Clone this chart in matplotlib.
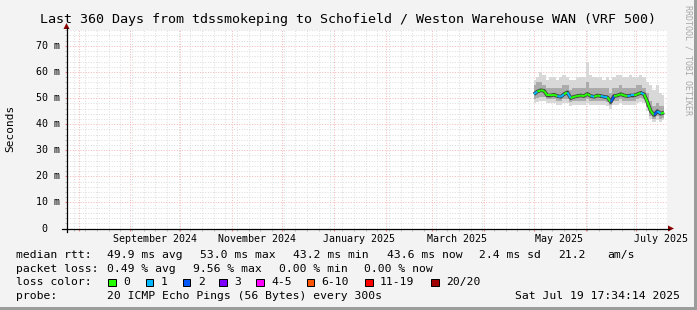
import matplotlib
matplotlib.use('Agg')
import matplotlib.pyplot as plt
import matplotlib.dates as mdates
from matplotlib.collections import LineCollection
from matplotlib.patches import Rectangle, Polygon
from matplotlib.lines import Line2D
from matplotlib.transforms import blended_transform_factory
import numpy as np
import pandas as pd

W, H = 697, 310
MONO = 'DejaVu Sans Mono'

title = 'Last 360 Days from tdssmokeping to Schofield / Weston Warehouse WAN (VRF 500)'
t_start = pd.Timestamp('2024-07-24 17:34:14')
t_end = pd.Timestamp('2025-07-19 17:34:14')

# one sample every two days, 2025-05-01 .. 2025-07-18 (values in ms)
sample_times = pd.date_range('2025-05-01', periods=40, freq='2D')
median_ms = [51.5, 52.5, 53.0, 52.8, 51.0, 51.0, 51.3, 50.8, 50.5, 51.5,
             52.2, 50.0, 50.5, 50.8, 51.0, 50.8, 51.6, 50.8, 50.5, 51.0,
             50.8, 50.5, 50.3, 48.5, 50.8, 51.0, 51.5, 51.0, 50.8, 51.0,
             51.0, 51.5, 52.0, 51.5, 48.5, 45.0, 43.5, 45.0, 44.0, 44.5]
loss_idx = [1, 0, 0, 0, 0, 0, 0, 1, 1, 0, 1, 0, 0, 0, 0, 0, 0, 1, 0, 0,
            1, 1, 0, 2, 0, 0, 0, 0, 1, 1, 0, 0, 1, 0, 0, 0, 2, 1, 0, 0]
smoke_min = [48.0, 48.5, 49.0, 49.0, 48.0, 48.0, 48.0, 47.5, 47.5, 48.0,
             48.0, 47.0, 47.5, 47.5, 47.5, 47.5, 48.0, 47.5, 47.5, 47.5,
             47.5, 47.5, 47.0, 46.0, 47.5, 47.5, 48.0, 47.5, 47.5, 47.5,
             47.5, 48.0, 48.5, 48.0, 45.0, 42.0, 41.0, 41.5, 41.0, 41.5]
smoke_low = [49.5, 50.0, 50.5, 50.5, 49.5, 49.5, 49.5, 49.0, 49.0, 49.5,
             49.5, 48.5, 49.0, 49.0, 49.0, 49.0, 49.5, 49.0, 49.0, 49.0,
             49.0, 49.0, 48.5, 47.5, 49.0, 49.0, 49.5, 49.0, 49.0, 49.0,
             49.0, 49.5, 50.0, 49.5, 46.5, 43.0, 42.0, 43.0, 42.0, 42.5]
smoke_high = [55, 56, 56, 55, 54, 54, 54, 54, 54, 55,
              55, 53, 54, 54, 54, 54, 56, 54, 54, 54,
              54, 54, 54, 52, 54, 54, 55, 54, 54, 54,
              54, 55, 55, 54, 52, 49, 47, 48, 47, 47]
smoke_max = [57, 58, 60, 59, 57, 58, 58, 57, 58, 59,
             58, 57, 57, 58, 58, 58, 64, 59, 58, 58,
             58, 57, 58, 57, 58, 59, 59, 58, 58, 59,
             58, 58, 59, 58, 56, 55, 53, 55, 52, 51]

y_ticks = [0, 10, 20, 30, 40, 50, 60, 70]
y_tick_labels = ['0', '10 m', '20 m', '30 m', '40 m', '50 m', '60 m', '70 m']
month_labels = ['September 2024', 'November 2024', 'January 2025',
                'March 2025', 'May 2025', 'July 2025']
month_label_dates = ['2024-09-16', '2024-11-16', '2025-01-16',
                     '2025-03-16', '2025-05-16', '2025-07-16']

loss_names = ['0', '1', '2', '3', '4-5', '6-10', '11-19', '20/20']
loss_colors = ['#26ff00', '#00b8ff', '#0059ff', '#7e00ff',
               '#ff00ff', '#ff5500', '#ff0000', '#a10000']

rtt_items = ['49.9 ms avg', '53.0 ms max', '43.2 ms min', '43.6 ms now',
             '2.4 ms sd', '21.2', 'am/s']
loss_items = ['0.49 % avg', '9.56 % max', '0.00 % min', '0.00 % now']
probe_text = '20 ICMP Echo Pings (56 Bytes) every 300s'
stamp_text = 'Sat Jul 19 17:34:14 2025'


def fx(x):
    return x / W


def fy(y):
    return 1 - y / H


fig = plt.figure(figsize=(W / 100, H / 100), dpi=100, facecolor='#f3f3f3')

# 3d-ish frame of rrdtool
fig.add_artist(Rectangle((fx(W - 3), 0), 3 / W, 1, transform=fig.transFigure,
                         color='#9c9c9c', lw=0))
fig.add_artist(Rectangle((0, 0), 1, 3 / H, transform=fig.transFigure,
                         color='#9c9c9c', lw=0))

ax = fig.add_axes([fx(66.5), fy(228.5), (667 - 66.5) / W, (228.5 - 29.5) / H])
ax.set_facecolor('white')
ax.set_xlim(t_start, t_end)
ax.set_ylim(0, 76.3)
for s in ax.spines.values():
    s.set_visible(False)

ax.xaxis.set_major_locator(mdates.MonthLocator())
ax.xaxis.set_minor_locator(mdates.WeekdayLocator(byweekday=mdates.MO))
ax.set_yticks(y_ticks)
ax.set_yticks(np.arange(0, 77, 2), minor=True)
ax.grid(which='minor', color='#dedede', linestyle=(0, (1, 1.6)), lw=0.72, zorder=0)
ax.grid(which='major', color='#f7b8b8', linestyle=(0, (1, 1.6)), lw=0.72, zorder=0)
ax.set_axisbelow(True)
ax.tick_params(which='both', labelbottom=False, labelleft=False)
ax.tick_params(axis='x', which='major', direction='out', length=1.6, color='#f08080')
ax.tick_params(axis='x', which='minor', direction='out', length=1.6, color='#b0b0b0')
ax.tick_params(axis='y', which='major', direction='out', length=1.6, color='#f08080')
ax.tick_params(axis='y', which='minor', direction='out', length=1.6, color='#b0b0b0')

# smoke
ax.fill_between(sample_times, smoke_min, smoke_max, step='mid',
                color='#d8d8d8', lw=0, zorder=2)
ax.fill_between(sample_times, smoke_low, smoke_high, step='mid',
                color='#ababab', lw=0, zorder=3)
ax.plot(sample_times, median_ms, color='#3c3c3c', lw=2.6, zorder=4,
        solid_capstyle='butt')

# median coloured by loss
xn = mdates.date2num(sample_times)
pts = np.column_stack([xn, median_ms])
segs = [pts[i:i + 2] for i in range(len(pts) - 1)]
lc = LineCollection(segs, colors=[loss_colors[k] for k in loss_idx[:-1]],
                    linewidths=1.5, zorder=5, capstyle='butt')
ax.add_collection(lc)

# axis lines and arrows
axis_col = '#000000'
arrow_col = '#8b0000'
fig.add_artist(Line2D([fx(62), fx(669)], [fy(228.5), fy(228.5)],
                      transform=fig.transFigure, color=axis_col, lw=0.9))
fig.add_artist(Line2D([fx(66.5), fx(66.5)], [fy(232), fy(28)],
                      transform=fig.transFigure, color=axis_col, lw=0.9))
fig.add_artist(Polygon([(fx(668), fy(225.5)), (fx(668), fy(231.5)), (fx(674), fy(228.5))],
                       closed=True, transform=fig.transFigure, color=arrow_col, lw=0))
fig.add_artist(Polygon([(fx(63.5), fy(29)), (fx(69.5), fy(29)), (fx(66.5), fy(23))],
                       closed=True, transform=fig.transFigure, color=arrow_col, lw=0))

# tick labels
ytr = blended_transform_factory(fig.transFigure, ax.transData)
for v, lab in zip(y_ticks, y_tick_labels):
    xr = 59.5 if v else 47.5
    fig.text(fx(xr), v, lab, transform=ytr, ha='right', va='center',
             family=MONO, fontsize=7.2, color='#000000')
xtr = blended_transform_factory(ax.transData, fig.transFigure)
for d, lab in zip(month_label_dates, month_labels):
    fig.text(mdates.date2num(pd.Timestamp(d)), fy(238.5), lab, transform=xtr,
             ha='center', va='center', family=MONO, fontsize=7.2, color='#000000')

fig.text(0.5, fy(19), title, ha='center', va='center', family=MONO,
         fontsize=9.6, color='#000000')
fig.text(fx(10), fy(128.5), 'Seconds', rotation=90, ha='center', va='center',
         family=MONO, fontsize=8, color='#000000')
fig.text(fx(688), fy(5), 'RRDTOOL / TOBI OETIKER', rotation=270, ha='center',
         va='top', family=MONO, fontsize=6, color='#a8a8a8')

# legend block
fs = 8.2
row_y = [254.7, 268.5, 282.3, 296.3]
fig.text(fx(16), fy(row_y[0]), 'median rtt:', va='center', family=MONO, fontsize=fs)
for xp, s in zip([107, 200, 293, 386.5, 479, 558, 607], rtt_items):
    fig.text(fx(xp), fy(row_y[0]), s, va='center', family=MONO, fontsize=fs)
fig.text(fx(16), fy(row_y[1]), 'packet loss:', va='center', family=MONO, fontsize=fs)
for xp, s in zip([107.3, 193.3, 279, 364.4], loss_items):
    fig.text(fx(xp), fy(row_y[1]), s, va='center', family=MONO, fontsize=fs)
fig.text(fx(16), fy(row_y[2]), 'loss color:', va='center', family=MONO, fontsize=fs)
box_x = [108, 145.7, 182.7, 219.3, 256, 306.7, 365, 431]
for xp, name, col in zip(box_x, loss_names, loss_colors):
    fig.add_artist(Rectangle((fx(xp), fy(row_y[2] + 3.8)), 7.6 / W, 7.6 / H,
                             transform=fig.transFigure, facecolor=col,
                             edgecolor='#000000', lw=0.72))
    fig.text(fx(xp + 15), fy(row_y[2]), name, va='center', family=MONO, fontsize=fs)
fig.text(fx(16), fy(row_y[3]), 'probe:', va='center', family=MONO, fontsize=fs)
fig.text(fx(107.3), fy(row_y[3]), probe_text, va='center', family=MONO, fontsize=fs)
fig.text(fx(680), fy(row_y[3]), stamp_text, ha='right', va='center', family=MONO, fontsize=fs)

fig.savefig('out.png', dpi=100, facecolor=fig.get_facecolor())
